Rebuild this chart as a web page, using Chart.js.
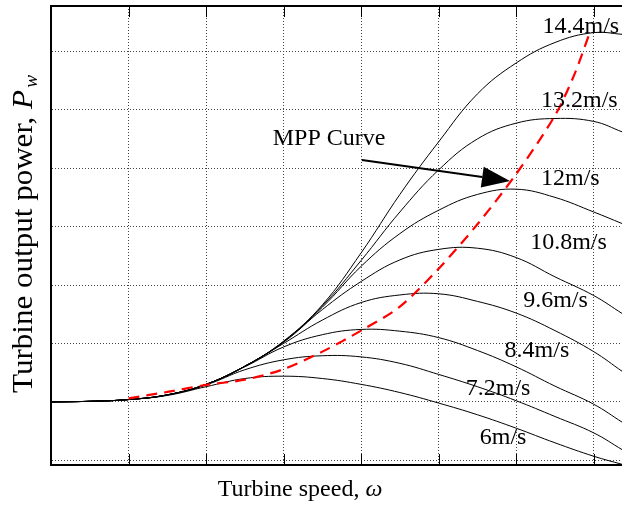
<!DOCTYPE html>
<html>
<head>
<meta charset="utf-8">
<script src="https://cdn.jsdelivr.net/npm/chart.js@4/dist/chart.umd.min.js"></script>
<style>
html,body{margin:0;padding:0;background:#fff;overflow:hidden}
#wrap{width:622px;height:508px;position:relative}
</style>
</head>
<body>
<div id="wrap"><canvas id="c" width="622" height="508"></canvas></div>
<script>
// ---- data (arbitrary units, grid step = 1) ----
const omega = [0, 0.5, 1, 1.5, 2, 2.5, 3, 3.5, 4, 4.5, 5, 5.5, 6, 6.5, 7, 7.37];
const windLabels = ['6m/s', '7.2m/s', '8.4m/s', '9.6m/s', '10.8m/s', '12m/s', '13.2m/s', '14.4m/s'];
const p6   = [0, .01, .04, .11, .26, .40, .44, .40, .30, .16, -.02, -.22, -.45, -.70, -.93, -1.07];
const p72  = [0, .01, .04, .12, .29, .55, .72, .79, .77, .66, .47, .26, .02, -.25, -.53, -.82];
const p84  = [0, .01, .04, .12, .30, .60, .94, 1.15, 1.24, 1.21, 1.10, .88, .60, .27, -.04, -.35];
const p96  = [0, .01, .04, .12, .30, .61, 1.00, 1.40, 1.70, 1.83, 1.85, 1.72, 1.52, 1.22, .86, .52];
const p108 = [0, .01, .04, .12, .30, .61, 1.02, 1.58, 2.06, 2.43, 2.61, 2.63, 2.47, 2.14, 1.82, 1.51];
const p12  = [0, .01, .04, .12, .30, .61, 1.03, 1.62, 2.32, 2.88, 3.28, 3.55, 3.64, 3.50, 3.25, 3.05];
const p132 = [0, .01, .04, .12, .30, .61, 1.03, 1.64, 2.42, 3.25, 3.97, 4.50, 4.77, 4.85, 4.80, 4.62];
const p144 = [0, .01, .04, .12, .30, .61, 1.04, 1.66, 2.55, 3.55, 4.45, 5.27, 5.80, 6.15, 6.32, 6.29];
const mppOmega = [1.0, 1.5, 2.0, 2.5, 3.0, 3.5, 4.0, 4.5, 5.0, 5.5, 6.0, 6.5, 6.75, 6.95];
const mppPower = [.06, .17, .29, .38, .56, .86, 1.22, 1.63, 2.28, 3.04, 3.90, 4.90, 5.60, 6.32];
const mppLabel = 'MPP Curve';
const xTitle = 'Turbine speed, ';
const xTitleSym = 'ω';
const yTitle = 'Turbine output power, ';
const yTitleSym = 'P';
const yTitleSub = 'w';

// ---- annotation placement (data coordinates: left edge, baseline) ----
const labelPos = [
  [5.53, -0.72], [5.35, 0.12], [5.85, 0.77], [6.09, 1.62],
  [6.18, 2.61], [6.32, 3.71], [6.32, 5.04], [6.34, 6.32]
];
const mppLabelPos = [2.86, 4.40];
const arrowFrom = [4.01, 4.14];
const arrowTo = [5.92, 3.78];

const series = [p6, p72, p84, p96, p108, p12, p132, p144];
const pts = (xs, ys) => xs.map((x, i) => ({x: x, y: ys[i]}));

const datasets = [{
  label: mppLabel,
  data: pts(mppOmega, mppPower),
  borderColor: '#ff0000',
  borderWidth: 2.2,
  borderDash: [11, 7],
  tension: 0.3,
  order: 0
}].concat(series.map((s, i) => ({
  label: windLabels[i],
  data: pts(omega, s),
  borderColor: '#000',
  borderWidth: 1,
  tension: 0.4,
  order: 1
})));

const SERIF = '"Liberation Serif", "Times New Roman", serif';

const decor = {
  id: 'decor',
  afterDraw(chart) {
    const {ctx, chartArea: a, scales: {x, y}} = chart;
    ctx.save();
    // top frame line
    ctx.strokeStyle = '#000';
    ctx.lineWidth = 2;
    ctx.beginPath();
    ctx.moveTo(a.left - 1, a.top);
    ctx.lineTo(a.right, a.top);
    ctx.stroke();
    // inward ticks on top and bottom
    ctx.lineWidth = 1;
    x.ticks.forEach(t => {
      if (t.value <= 0) return;
      const px = Math.round(x.getPixelForValue(t.value)) + 0.5;
      ctx.beginPath();
      ctx.moveTo(px, a.top); ctx.lineTo(px, a.top + 11);
      ctx.moveTo(px, a.bottom); ctx.lineTo(px, a.bottom - 11);
      ctx.stroke();
    });

    // curve labels
    ctx.fillStyle = '#000';
    ctx.font = '24px ' + SERIF;
    ctx.textBaseline = 'alphabetic';
    ctx.textAlign = 'left';
    windLabels.forEach((lab, i) => {
      ctx.fillText(lab, x.getPixelForValue(labelPos[i][0]), y.getPixelForValue(labelPos[i][1]));
    });
    ctx.fillText(mppLabel, x.getPixelForValue(mppLabelPos[0]), y.getPixelForValue(mppLabelPos[1]));

    // arrow
    const x0 = x.getPixelForValue(arrowFrom[0]), y0 = y.getPixelForValue(arrowFrom[1]);
    const x1 = x.getPixelForValue(arrowTo[0]), y1 = y.getPixelForValue(arrowTo[1]);
    const ang = Math.atan2(y1 - y0, x1 - x0);
    const headL = 28, headW = 10.5;
    const bx = x1 - headL * Math.cos(ang), by = y1 - headL * Math.sin(ang);
    ctx.lineWidth = 2;
    ctx.beginPath(); ctx.moveTo(x0, y0); ctx.lineTo(bx, by); ctx.stroke();
    ctx.beginPath();
    ctx.moveTo(x1, y1);
    ctx.lineTo(bx + headW * Math.sin(ang), by - headW * Math.cos(ang));
    ctx.lineTo(bx - headW * Math.sin(ang), by + headW * Math.cos(ang));
    ctx.closePath(); ctx.fill();

    // x-axis title
    ctx.font = '24px ' + SERIF;
    const w1 = ctx.measureText(xTitle).width;
    ctx.font = 'italic 24px ' + SERIF;
    const w2 = ctx.measureText(xTitleSym).width;
    const xl = 300 - (w1 + w2) / 2;
    ctx.font = '24px ' + SERIF;
    ctx.fillText(xTitle, xl, 496);
    ctx.font = 'italic 24px ' + SERIF;
    ctx.fillText(xTitleSym, xl + w1, 496);

    // y-axis title (rotated)
    ctx.translate(32, 234);
    ctx.rotate(-Math.PI / 2);
    ctx.font = '29px ' + SERIF;
    const a1 = ctx.measureText(yTitle).width;
    ctx.font = 'italic 29px ' + SERIF;
    const a2 = ctx.measureText(yTitleSym).width;
    ctx.font = 'italic 18px ' + SERIF;
    const a3 = ctx.measureText(yTitleSub).width;
    const total = a1 + a2 + a3 + 2;
    const target = 318;
    ctx.scale(target / total, 1);
    const s0 = -total / 2;
    ctx.font = '29px ' + SERIF;
    ctx.fillText(yTitle, s0, 0);
    ctx.font = 'italic 29px ' + SERIF;
    ctx.fillText(yTitleSym, s0 + a1, 0);
    ctx.font = 'italic 18px ' + SERIF;
    ctx.fillText(yTitleSub, s0 + a1 + a2 + 2, 5);
    ctx.restore();
  }
};

new Chart(document.getElementById('c'), {
  type: 'line',
  data: {datasets: datasets},
  options: {
    responsive: false,
    animation: false,
    layout: {padding: {left: 51, top: 6, right: 0, bottom: 43}},
    elements: {point: {radius: 0}, line: {borderJoinStyle: 'round', capBezierPoints: false}},
    plugins: {legend: {display: false}, tooltip: {enabled: false}},
    scales: {
      x: {
        type: 'linear', min: 0, max: 7.365,
        afterFit(s) { s.height = 0; },
        ticks: {display: false, stepSize: 1, includeBounds: false},
        grid: {color: '#444', lineWidth: 1, drawTicks: false},
        border: {display: true, color: '#000', width: 2, dash: [1, 2]}
      },
      y: {
        type: 'linear', min: -1.08, max: 6.775,
        afterFit(s) { s.width = 0; },
        ticks: {display: false, stepSize: 1, includeBounds: false},
        grid: {color: '#444', lineWidth: 1, drawTicks: false},
        border: {display: true, color: '#000', width: 2, dash: [1, 2]}
      }
    }
  },
  plugins: [decor]
});
</script>
</body>
</html>
